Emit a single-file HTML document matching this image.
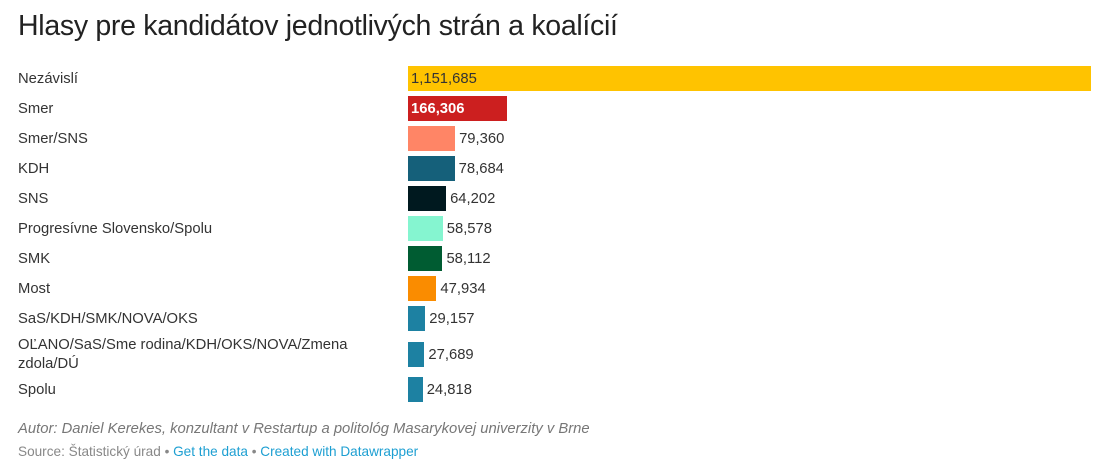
<!DOCTYPE html>
<html><head><meta charset="utf-8">
<style>
body{margin:0;width:1107px;height:465px;background:#fff;font-family:"Liberation Sans",sans-serif;color:#333;overflow:hidden;position:relative}
.t{position:absolute;white-space:nowrap}
</style></head><body>
<div class="t" style="left:18px;top:10px;font-size:28.5px;color:#222;letter-spacing:-0.3px">Hlasy pre kandidátov jednotlivých strán a koalícií</div>
<div id="chart"></div>
<div class="t" style="left:18px;top:421px;font-size:14.8px;font-style:italic;color:#777">Autor: Daniel Kerekes, konzultant v Restartup a politológ Masarykovej univerzity v Brne</div>
<div class="t" style="left:18px;top:444px;font-size:13.6px;color:#888">Source: Štatistický úrad • <span style="color:#1d9fd2">Get the data</span> • <span style="color:#1d9fd2">Created with Datawrapper</span></div>
<script>
const categories=["Nezávislí","Smer","Smer/SNS","KDH","SNS","Progresívne Slovensko/Spolu","SMK","Most","SaS/KDH/SMK/NOVA/OKS","OĽANO/SaS/Sme rodina/KDH/OKS/NOVA/Zmena zdola/DÚ","Spolu"];
const values=[1151685,166306,79360,78684,64202,58578,58112,47934,29157,27689,24818];
const colors=["#ffc300","#cc1f1f","#ff8566","#15607a","#00191f","#85f5d0","#005c32","#fa8c00","#1d81a2","#1d81a2","#1d81a2"];
const x0=408,maxW=683,maxV=Math.max(...values);
const xs=v=>v/maxV*maxW;
const chart=document.getElementById('chart');
let y=66;
categories.forEach((c,i)=>{
  const two=c.length>40;
  if(i>0) y+= (two||categories[i-1].length>40)?35.5:30;
  const lab=document.createElement('div');
  
  
  lab.className='t';
  lab.style.cssText=`left:18px;font-size:14.8px;line-height:19px;width:350px;white-space:normal;top:${two?y-6:y+4}px`;
  lab.textContent=c;
  chart.appendChild(lab);
  const w=xs(values[i]);
  const b=document.createElement('div');
  
  
  b.style.cssText=`position:absolute;left:${x0}px;top:${y}px;width:${w}px;height:25px;background:${colors[i]}`;
  chart.appendChild(b);
  const v=document.createElement('div');
  
  
  v.className='t';
  const inside=w>90;
  v.style.cssText=`top:${y+5}px;font-size:14.8px;left:${inside?x0+3:x0+w+4}px;`+(i===1?'color:#fff;font-weight:bold;':'');
  v.textContent=values[i].toLocaleString('en-US');
  chart.appendChild(v);
});
</script>
</body></html>
